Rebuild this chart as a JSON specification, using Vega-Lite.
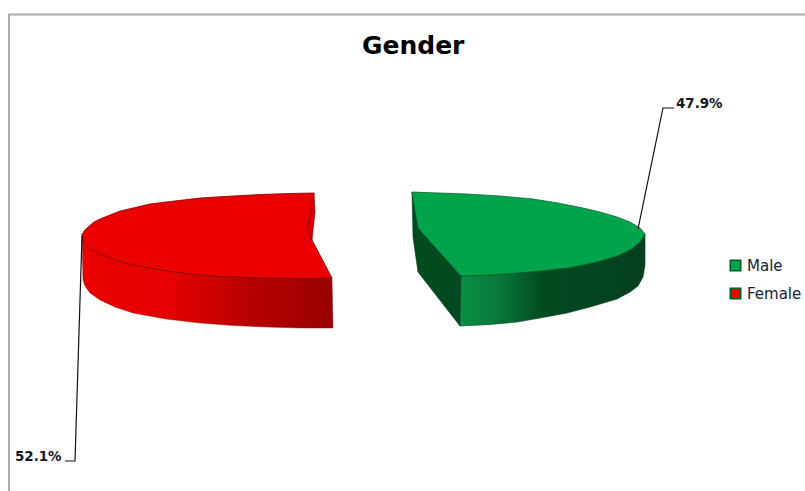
{
"$schema":"https://vega.github.io/schema/vega-lite/v6.json",
"width":805,"height":491,"padding":0,"autosize":"none",
"background":"white",
"view":{"stroke":null},
"title":{"text":"Gender","font":"DejaVu Sans","fontSize":25,"fontWeight":"bold","color":"#000000","anchor":"start","frame":"bounds","offset":-59,"dx":362},
"datasets":{
"shares":[
{"gender":"Male","label":"47.9%","x":676,"y":104},
{"gender":"Female","label":"52.1%","x":15,"y":457}],
"outline":[
{"part":"redwall","gender":"Female","i":0,"x":82,"y":233},
{"part":"redwall","gender":"Female","i":1,"x":83,"y":243},
{"part":"redwall","gender":"Female","i":2,"x":90,"y":249},
{"part":"redwall","gender":"Female","i":3,"x":100,"y":254},
{"part":"redwall","gender":"Female","i":4,"x":115,"y":260},
{"part":"redwall","gender":"Female","i":5,"x":133,"y":265},
{"part":"redwall","gender":"Female","i":6,"x":166,"y":271},
{"part":"redwall","gender":"Female","i":7,"x":200,"y":275},
{"part":"redwall","gender":"Female","i":8,"x":233,"y":277},
{"part":"redwall","gender":"Female","i":9,"x":267,"y":278},
{"part":"redwall","gender":"Female","i":10,"x":332,"y":278},
{"part":"redwall","gender":"Female","i":11,"x":333,"y":328},
{"part":"redwall","gender":"Female","i":12,"x":300,"y":328},
{"part":"redwall","gender":"Female","i":13,"x":267,"y":327},
{"part":"redwall","gender":"Female","i":14,"x":233,"y":325.5},
{"part":"redwall","gender":"Female","i":15,"x":200,"y":323},
{"part":"redwall","gender":"Female","i":16,"x":166,"y":319},
{"part":"redwall","gender":"Female","i":17,"x":133,"y":313},
{"part":"redwall","gender":"Female","i":18,"x":115,"y":307},
{"part":"redwall","gender":"Female","i":19,"x":100,"y":300},
{"part":"redwall","gender":"Female","i":20,"x":90,"y":293},
{"part":"redwall","gender":"Female","i":21,"x":85,"y":286},
{"part":"redwall","gender":"Female","i":22,"x":83,"y":280},
{"part":"redwall","gender":"Female","i":23,"x":82,"y":233},
{"part":"redtop","gender":"Female","i":0,"x":82,"y":236},
{"part":"redtop","gender":"Female","i":1,"x":84,"y":231},
{"part":"redtop","gender":"Female","i":2,"x":88,"y":227},
{"part":"redtop","gender":"Female","i":3,"x":94,"y":222},
{"part":"redtop","gender":"Female","i":4,"x":100,"y":219},
{"part":"redtop","gender":"Female","i":5,"x":110,"y":215},
{"part":"redtop","gender":"Female","i":6,"x":120,"y":211},
{"part":"redtop","gender":"Female","i":7,"x":133,"y":208},
{"part":"redtop","gender":"Female","i":8,"x":150,"y":204},
{"part":"redtop","gender":"Female","i":9,"x":166,"y":202},
{"part":"redtop","gender":"Female","i":10,"x":183,"y":200},
{"part":"redtop","gender":"Female","i":11,"x":200,"y":198},
{"part":"redtop","gender":"Female","i":12,"x":216,"y":197},
{"part":"redtop","gender":"Female","i":13,"x":233,"y":196},
{"part":"redtop","gender":"Female","i":14,"x":260,"y":194.5},
{"part":"redtop","gender":"Female","i":15,"x":290,"y":193.5},
{"part":"redtop","gender":"Female","i":16,"x":314,"y":193},
{"part":"redtop","gender":"Female","i":17,"x":307,"y":230},
{"part":"redtop","gender":"Female","i":18,"x":312,"y":240},
{"part":"redtop","gender":"Female","i":19,"x":332,"y":278},
{"part":"redtop","gender":"Female","i":20,"x":300,"y":278.5},
{"part":"redtop","gender":"Female","i":21,"x":267,"y":278},
{"part":"redtop","gender":"Female","i":22,"x":233,"y":277},
{"part":"redtop","gender":"Female","i":23,"x":200,"y":275},
{"part":"redtop","gender":"Female","i":24,"x":166,"y":271},
{"part":"redtop","gender":"Female","i":25,"x":133,"y":265},
{"part":"redtop","gender":"Female","i":26,"x":115,"y":260},
{"part":"redtop","gender":"Female","i":27,"x":100,"y":254},
{"part":"redtop","gender":"Female","i":28,"x":90,"y":249},
{"part":"redtop","gender":"Female","i":29,"x":83,"y":243},
{"part":"redtop","gender":"Female","i":30,"x":82,"y":236},
{"part":"rednotch","gender":"Female","i":0,"x":314,"y":193},
{"part":"rednotch","gender":"Female","i":1,"x":315,"y":212},
{"part":"rednotch","gender":"Female","i":2,"x":312,"y":240},
{"part":"rednotch","gender":"Female","i":3,"x":307,"y":230},
{"part":"rednotch","gender":"Female","i":4,"x":314,"y":193},
{"part":"greeninner","gender":"Male","i":0,"x":412,"y":192},
{"part":"greeninner","gender":"Male","i":1,"x":418,"y":228},
{"part":"greeninner","gender":"Male","i":2,"x":461,"y":276},
{"part":"greeninner","gender":"Male","i":3,"x":460,"y":326},
{"part":"greeninner","gender":"Male","i":4,"x":418,"y":272},
{"part":"greeninner","gender":"Male","i":5,"x":413,"y":237},
{"part":"greeninner","gender":"Male","i":6,"x":412,"y":192},
{"part":"greenwall","gender":"Male","i":0,"x":461,"y":276},
{"part":"greenwall","gender":"Male","i":1,"x":490,"y":275},
{"part":"greenwall","gender":"Male","i":2,"x":517,"y":273},
{"part":"greenwall","gender":"Male","i":3,"x":540,"y":271},
{"part":"greenwall","gender":"Male","i":4,"x":567,"y":268},
{"part":"greenwall","gender":"Male","i":5,"x":583,"y":265},
{"part":"greenwall","gender":"Male","i":6,"x":600,"y":261},
{"part":"greenwall","gender":"Male","i":7,"x":617,"y":256},
{"part":"greenwall","gender":"Male","i":8,"x":630,"y":250},
{"part":"greenwall","gender":"Male","i":9,"x":640,"y":242},
{"part":"greenwall","gender":"Male","i":10,"x":645,"y":234},
{"part":"greenwall","gender":"Male","i":11,"x":645,"y":265},
{"part":"greenwall","gender":"Male","i":12,"x":643,"y":277},
{"part":"greenwall","gender":"Male","i":13,"x":638,"y":286},
{"part":"greenwall","gender":"Male","i":14,"x":630,"y":292},
{"part":"greenwall","gender":"Male","i":15,"x":617,"y":299},
{"part":"greenwall","gender":"Male","i":16,"x":590,"y":307},
{"part":"greenwall","gender":"Male","i":17,"x":567,"y":313},
{"part":"greenwall","gender":"Male","i":18,"x":540,"y":318},
{"part":"greenwall","gender":"Male","i":19,"x":517,"y":322},
{"part":"greenwall","gender":"Male","i":20,"x":490,"y":324.5},
{"part":"greenwall","gender":"Male","i":21,"x":460,"y":326},
{"part":"greenwall","gender":"Male","i":22,"x":461,"y":276},
{"part":"greentop","gender":"Male","i":0,"x":412,"y":192},
{"part":"greentop","gender":"Male","i":1,"x":440,"y":193},
{"part":"greentop","gender":"Male","i":2,"x":467,"y":194},
{"part":"greentop","gender":"Male","i":3,"x":500,"y":196},
{"part":"greentop","gender":"Male","i":4,"x":533,"y":199},
{"part":"greentop","gender":"Male","i":5,"x":558,"y":203},
{"part":"greentop","gender":"Male","i":6,"x":583,"y":208},
{"part":"greentop","gender":"Male","i":7,"x":600,"y":212},
{"part":"greentop","gender":"Male","i":8,"x":617,"y":217},
{"part":"greentop","gender":"Male","i":9,"x":630,"y":222},
{"part":"greentop","gender":"Male","i":10,"x":640,"y":228},
{"part":"greentop","gender":"Male","i":11,"x":645,"y":234},
{"part":"greentop","gender":"Male","i":12,"x":640,"y":242},
{"part":"greentop","gender":"Male","i":13,"x":630,"y":250},
{"part":"greentop","gender":"Male","i":14,"x":617,"y":256},
{"part":"greentop","gender":"Male","i":15,"x":600,"y":261},
{"part":"greentop","gender":"Male","i":16,"x":583,"y":265},
{"part":"greentop","gender":"Male","i":17,"x":567,"y":268},
{"part":"greentop","gender":"Male","i":18,"x":540,"y":271},
{"part":"greentop","gender":"Male","i":19,"x":517,"y":273},
{"part":"greentop","gender":"Male","i":20,"x":490,"y":275},
{"part":"greentop","gender":"Male","i":21,"x":461,"y":276},
{"part":"greentop","gender":"Male","i":22,"x":418,"y":228},
{"part":"greentop","gender":"Male","i":23,"x":412,"y":192}
],
"leaders":[
{"gender":"Male","i":0,"x":638,"y":229},
{"gender":"Male","i":1,"x":663,"y":108},
{"gender":"Male","i":2,"x":674,"y":108},
{"gender":"Female","i":0,"x":82,"y":236},
{"gender":"Female","i":1,"x":75,"y":461},
{"gender":"Female","i":2,"x":65,"y":461}
],
"frame":[
{"i":0,"x":9,"y":491},
{"i":1,"x":9,"y":14.5},
{"i":2,"x":805,"y":14.5}
]
},
"encoding":{
"x":{"field":"x","type":"quantitative","scale":{"domain":[0,805]},"axis":null},
"y":{"field":"y","type":"quantitative","scale":{"domain":[0,491],"reverse":true},"axis":null},
"order":{"field":"i","type":"ordinal"}
},
"layer":[
{"data":{"name":"frame"},"mark":{"type":"line","stroke":"#ababab","strokeWidth":2,"clip":false},"encoding":{}},
{"data":{"name":"outline"},"transform":[{"filter":"datum.part=='redwall'"}],
"mark":{"type":"line","filled":true,"stroke":"#8a2020","strokeWidth":0.5,"fill":{"gradient":"linear","x1":0,"x2":1,"y1":0,"y2":0,"stops":[{"offset":0,"color":"#ea0000"},{"offset":0.35,"color":"#e40000"},{"offset":0.7,"color":"#b40000"},{"offset":1,"color":"#990000"}]}},"encoding":{}},
{"data":{"name":"outline"},"transform":[{"filter":"datum.part=='redtop'"}],
"mark":{"type":"line","filled":true,"stroke":"#7a0000","strokeWidth":0.8},
"encoding":{"fill":{"field":"gender","type":"nominal","scale":{"domain":["Male","Female"],"range":["#00a44a","#ea0000"]},
"legend":{"orient":"none","legendX":728,"legendY":258,"title":null,"symbolType":"square","symbolSize":110,"symbolStrokeColor":"#000000","symbolStrokeWidth":1.5,"labelFont":"DejaVu Sans","labelFontSize":15,"labelColor":"#10243e","rowPadding":11,"labelOffset":4}}}},
{"data":{"name":"outline"},"transform":[{"filter":"datum.part=='rednotch'"}],
"mark":{"type":"line","filled":true,"stroke":"#8a0000","strokeWidth":0.6,"fill":"#d80000"},"encoding":{}},
{"data":{"name":"outline"},"transform":[{"filter":"datum.part=='greeninner'"}],
"mark":{"type":"line","filled":true,"stroke":"#013a1a","strokeWidth":0.6,"fill":"#024a20"},"encoding":{}},
{"data":{"name":"outline"},"transform":[{"filter":"datum.part=='greenwall'"}],
"mark":{"type":"line","filled":true,"stroke":"#013a1a","strokeWidth":0.6,"fill":{"gradient":"linear","x1":0,"x2":1,"y1":0,"y2":0,"stops":[{"offset":0,"color":"#0a8f45"},{"offset":0.2,"color":"#077a3a"},{"offset":0.45,"color":"#024a20"},{"offset":1,"color":"#03401e"}]}},"encoding":{}},
{"data":{"name":"outline"},"transform":[{"filter":"datum.part=='greentop'"}],
"mark":{"type":"line","filled":true,"stroke":"#01582a","strokeWidth":0.7},
"encoding":{"fill":{"field":"gender","type":"nominal"}}},
{"data":{"name":"leaders"},"mark":{"type":"line","stroke":"#111111","strokeWidth":1.2},"encoding":{"detail":{"field":"gender"}}},
{"data":{"name":"shares"},"mark":{"type":"text","align":"left","baseline":"middle","font":"DejaVu Sans","fontSize":13.4,"fontWeight":"bold","color":"#111827"},"encoding":{"text":{"field":"label"},"order":null}}
]
}
